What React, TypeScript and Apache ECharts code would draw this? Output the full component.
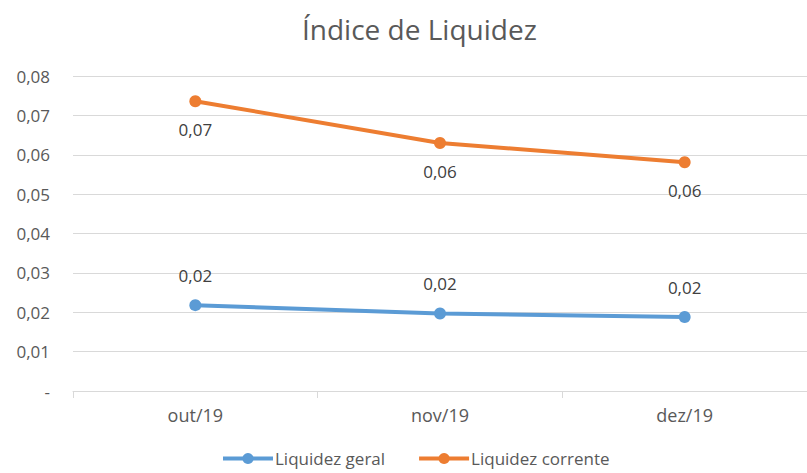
import React, { useEffect, useRef } from "react";
import * as echarts from "echarts";

const categories = ["out/19", "nov/19", "dez/19"];
const liquidezGeral = [0.0218, 0.0197, 0.0188];
const liquidezCorrente = [0.0736, 0.063, 0.0581];
const seriesNames = ["Liquidez geral", "Liquidez corrente"];
const title = "Índice de Liquidez";

const FONT = "'Open Sans', sans-serif";
const fmt = (v: number) => (v === 0 ? "-" : v.toFixed(2).replace(".", ","));

export default function App() {
  const ref = useRef<HTMLDivElement>(null);
  useEffect(() => {
    document.body.style.margin = "0";
    const chart = echarts.init(ref.current!, null, { renderer: "svg" });
    chart.setOption({
      animation: false,
      backgroundColor: "#ffffff",
      title: {
        text: title,
        left: 297,
        top: 10,
        textStyle: { fontFamily: FONT, fontSize: 28, fontWeight: "normal", color: "#595959" },
      },
      legend: {
        data: seriesNames,
        top: 445,
        left: 216,
        itemWidth: 50,
        itemHeight: 14,
        itemGap: 32,
        lineStyle: { width: 4 },
        textStyle: { fontFamily: FONT, fontSize: 17, color: "#595959", padding: [0, 0, 0, -3] },
      },
      grid: { left: 73, width: 741, top: 76, bottom: 82, containLabel: false },
      xAxis: {
        type: "category",
        data: categories,
        boundaryGap: true,
        axisLine: { lineStyle: { color: "#d9d9d9", width: 1 } },
        axisTick: { show: true, length: 7, lineStyle: { color: "#d9d9d9" } },
        axisLabel: { fontFamily: FONT, fontSize: 18, color: "#595959", margin: 15 },
      },
      yAxis: {
        type: "value",
        min: 0,
        max: 0.08,
        interval: 0.01,
        axisLine: { show: false },
        axisTick: { show: false },
        splitLine: { lineStyle: { color: "#d9d9d9", width: 1 } },
        axisLabel: { fontFamily: FONT, fontSize: 17, color: "#595959", margin: 23, formatter: fmt },
      },
      series: [
        {
          name: seriesNames[0],
          type: "line",
          data: liquidezGeral,
          color: "#5B9BD5",
          lineStyle: { width: 4, color: "#5B9BD5" },
          symbol: "circle",
          symbolSize: 12,
          itemStyle: { color: "#5B9BD5" },
          label: {
            show: true,
            position: "top",
            distance: 15,
            fontFamily: FONT,
            fontSize: 17,
            color: "#404040",
            formatter: (p: any) => fmt(p.value),
          },
        },
        {
          name: seriesNames[1],
          type: "line",
          data: liquidezCorrente,
          color: "#ED7D31",
          lineStyle: { width: 4, color: "#ED7D31" },
          symbol: "circle",
          symbolSize: 12,
          itemStyle: { color: "#ED7D31" },
          label: {
            show: true,
            position: "bottom",
            distance: 14,
            fontFamily: FONT,
            fontSize: 17,
            color: "#404040",
            formatter: (p: any) => fmt(p.value),
          },
        },
      ],
    });
    return () => chart.dispose();
  }, []);
  return <div ref={ref} style={{ width: 807, height: 473, position: "absolute", left: 0, top: 0 }} />;
}
